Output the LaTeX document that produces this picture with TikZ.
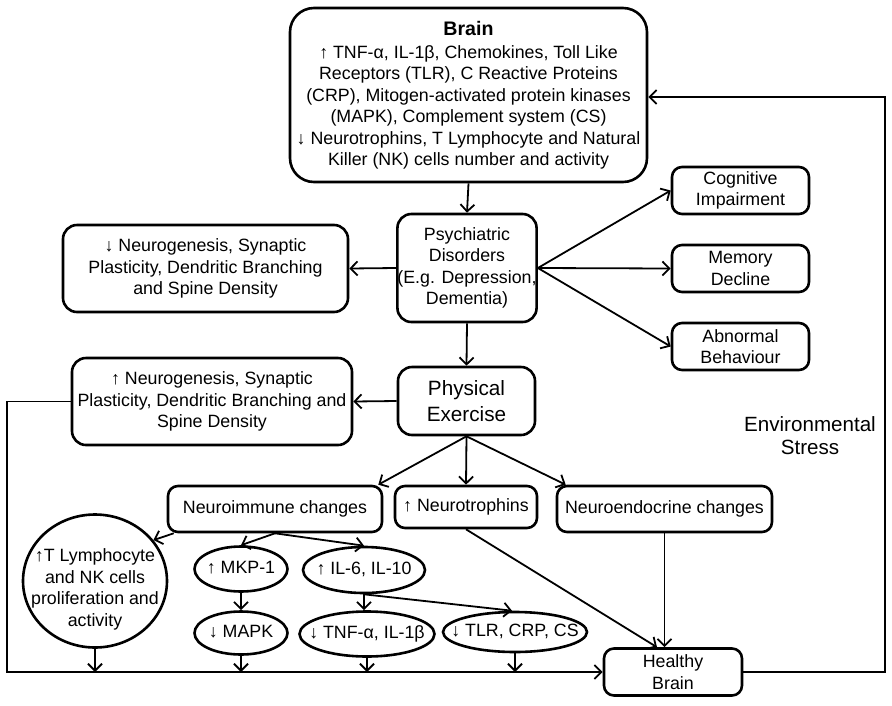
\documentclass[tikz,border=0pt]{standalone}
\usepackage{fontspec}
\setmainfont{Liberation Sans}
\usetikzlibrary{arrows.meta,shapes.geometric,calc}
\newcommand{\zt}[1]{\makebox[0pt][c]{\begin{tabular}{@{}c@{}}#1\end{tabular}}}
\begin{document}
\begin{tikzpicture}[x=1pt,y=-1pt,
  every node/.style={inner sep=0pt,align=center,font=\fontsize{17.8}{21.4}\selectfont},
  box/.style={draw,line width=2.6pt,rounded corners=14pt},
  ell/.style={draw,line width=2.6pt,ellipse},
  conn/.style={line width=1.8pt,-{Straight Barb[length=7pt,width=14pt,line width=1.8pt]}},
  plain/.style={line width=1.8pt}]
\useasboundingbox (0,0) rectangle (892,705);
\node[box,rounded corners=24pt,minimum width=357pt,minimum height=174pt] (brain) at (468.5,95)
  {{\bfseries\fontsize{19.6}{24}\selectfont Brain}\\[2pt]
   ↑ TNF-α, IL-1β, Chemokines, Toll Like\\
   Receptors (TLR), C Reactive Proteins\\
   (CRP), Mitogen-activated protein kinases\\
   (MAPK), Complement system (CS)\\
   ↓ Neurotrophins, T Lymphocyte and Natural\\
   Killer (NK) cells number and activity};
\node[box,minimum width=138pt,minimum height=108pt] (psych) at (467,268)
  {Psychiatric\\Disorders\\(E.g. Depression,\\Dementia)};
\node[box,minimum width=285pt,minimum height=87pt] (ndown) at (205.5,268.5)
  {↓ Neurogenesis, Synaptic\\Plasticity, Dendritic Branching\\and Spine Density};
\node[box,rounded corners=10pt,minimum width=137pt,minimum height=47pt] (cog) at (740.5,190.5)
  {Cognitive\\Impairment};
\node[box,rounded corners=10pt,minimum width=137pt,minimum height=47pt] (mem) at (740.5,268.5)
  {Memory\\Decline};
\node[box,rounded corners=10pt,minimum width=137pt,minimum height=47pt] (abn) at (740.5,346.5)
  {Abnormal\\Behaviour};
\node[box,minimum width=137pt,minimum height=68pt,font=\fontsize{20.7}{26}\selectfont] (phys) at (466.5,401)
  {Physical\\Exercise};
\node[box,minimum width=280pt,minimum height=87pt] (nup) at (212,401.5)
  {↑ Neurogenesis, Synaptic\\Plasticity, Dendritic Branching and\\Spine Density};
\node[box,rounded corners=10pt,minimum width=214pt,minimum height=46pt] (immune) at (275,509)
  {Neuroimmune changes};
\node[box,rounded corners=10pt,minimum width=142pt,minimum height=42pt] (troph) at (466,507)
  {↑ Neurotrophins};
\node[box,rounded corners=10pt,minimum width=215pt,minimum height=46pt] (endo) at (664.5,509)
  {Neuroendocrine changes};
\node[ell,minimum width=144pt,minimum height=133pt] (circ) at (95,581)
  {\raisebox{-13pt}[0pt][0pt]{\zt{↑T Lymphocyte\\and NK cells\\proliferation and\\activity}}};
\node[ell,minimum width=93pt,minimum height=45pt] (mkp) at (241,569) {\zt{↑ MKP-1}};
\node[ell,minimum width=93pt,minimum height=43pt] (mapk) at (241,633) {\zt{↓ MAPK}};
\node[ell,minimum width=122pt,minimum height=46pt] (il6) at (364,570) {\zt{↑ IL-6, IL-10}};
\node[ell,minimum width=135pt,minimum height=45pt] (tnf) at (367,634) {\zt{↓ TNF-α, IL-1β}};
\node[ell,minimum width=144pt,minimum height=40pt] (tlr) at (515,632) {\zt{↓ TLR, CRP, CS}};
\node[box,rounded corners=10pt,minimum width=138pt,minimum height=47pt] (healthy) at (673,672)
  {Healthy\\Brain};
\node[font=\fontsize{20.6}{23}\selectfont] (env) at (810,436) {Environmental\\Stress};
\coordinate (rc) at (885,672);
\coordinate (lc) at (7,401.5);
% connectors
\draw[conn] (brain.south) -- (psych.north);
\draw[conn] (psych.west) -- (ndown.east);
\draw[conn] (psych.east) -- (cog.west);
\draw[conn] (psych.east) -- (mem.west);
\draw[conn] (psych.east) -- (abn.west);
\draw[conn] (psych.south) -- (phys.north);
\draw[conn] (phys.west) -- (nup.east);
\draw[conn] (phys.south) -- ([xshift=-5pt]immune.north east);
\draw[conn] (phys.south) -- (troph.north);
\draw[conn] (phys.south) -- ([xshift=10pt]endo.north west);
\draw[conn] ([xshift=7pt]immune.south west) -- (circ.35);
\draw[conn] (immune.south) -- (mkp.north);
\draw[conn] (immune.south) -- (il6.north);
\draw[conn] (mkp.south) -- (mapk.north);
\draw[conn] (il6.south) -- (tnf.north -| il6.south);
\draw[conn] (il6.south) -- ([xshift=-3pt]tlr.north);
\draw[conn] (troph.south) -- ([xshift=-16pt]healthy.north);
\draw[conn] (endo.south) -- (endo.south |- healthy.north);
\draw[conn] (nup.west) -- (lc) |- (healthy.west);
\draw[conn] (circ.south) -- (circ.south |- healthy.west);
\draw[conn] (mapk.south) -- (mapk.south |- healthy.west);
\draw[conn] (tnf.south) -- (tnf.south |- healthy.west);
\draw[conn] (tlr.south) -- (tlr.south |- healthy.west);
\draw[conn] (healthy.east) -- (rc) |- ([yshift=-2pt]brain.east);
\end{tikzpicture}
\end{document}
